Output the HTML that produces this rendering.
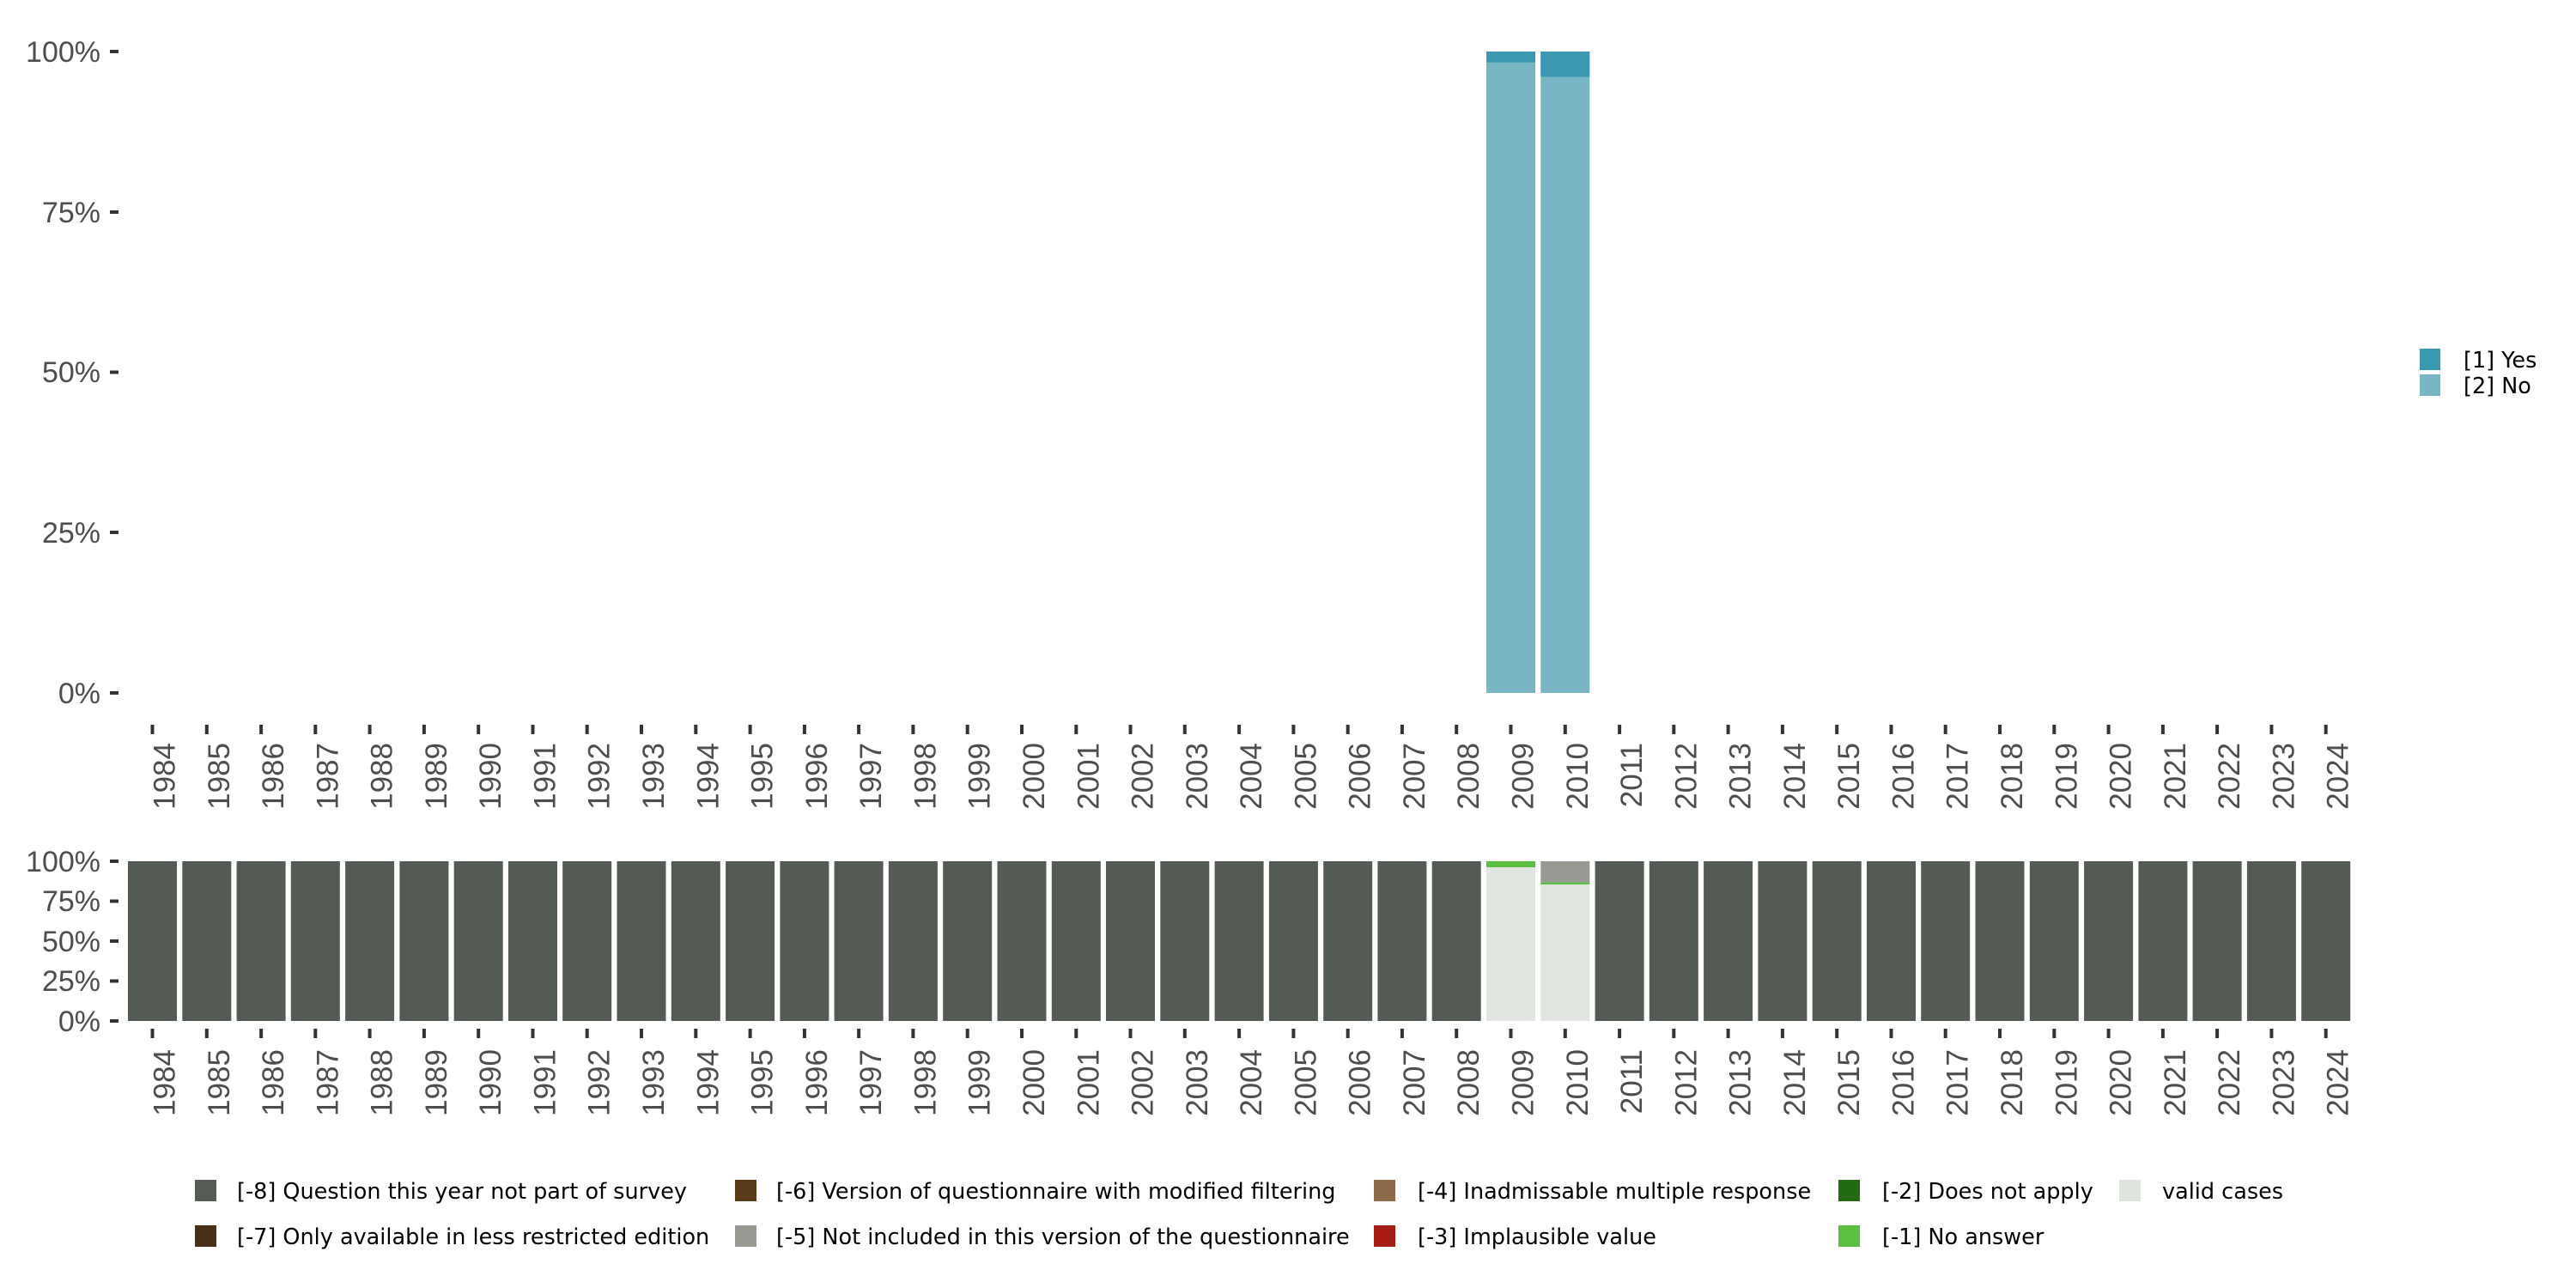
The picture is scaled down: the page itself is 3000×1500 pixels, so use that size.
<!DOCTYPE html>
<html><head><meta charset="utf-8"><style>
html,body{margin:0;padding:0;background:#fff;}
svg{display:block;font-family:"Liberation Sans",sans-serif;}
.yl{font-size:34px;fill:#4d4d4d;text-anchor:end;}
.xl{font-size:35px;fill:#4d4d4d;text-anchor:end;}
.lg{font-size:26px;fill:#000;}
.lb{font-family:"DejaVu Sans",sans-serif;font-size:25.5px;fill:#000;}
</style></head><body>
<svg width="3000" height="1500" viewBox="0 0 3000 1500" xmlns="http://www.w3.org/2000/svg">
<defs>
<g id="tk"><rect x="-2" y="844" width="4" height="11" fill="#333"/><rect x="-2" y="1198" width="4" height="11" fill="#333"/></g>
</defs>
<g fill="#333">
<rect x="128" y="58" width="10" height="4"/><rect x="128" y="245" width="10" height="4"/><rect x="128" y="431.5" width="10" height="4"/><rect x="128" y="618" width="10" height="4"/><rect x="128" y="805" width="10" height="4"/>
<rect x="128" y="1001" width="10" height="4"/><rect x="128" y="1047.5" width="10" height="4"/><rect x="128" y="1094" width="10" height="4"/><rect x="128" y="1140.5" width="10" height="4"/><rect x="128" y="1187" width="10" height="4"/>
</g>
<text class="yl" x="117" y="72">100%</text>
<text class="yl" x="117" y="259">75%</text>
<text class="yl" x="117" y="445">50%</text>
<text class="yl" x="117" y="632">25%</text>
<text class="yl" x="117" y="819">0%</text>
<text class="yl" x="117" y="1015">100%</text>
<text class="yl" x="117" y="1061">75%</text>
<text class="yl" x="117" y="1108">50%</text>
<text class="yl" x="117" y="1154">25%</text>
<text class="yl" x="117" y="1201">0%</text>
<rect x="1731" y="60" width="57" height="747" fill="#79b6c5"/>
<rect x="1731" y="60" width="57" height="12.7" fill="#3a98b0"/>
<rect x="1794.3" y="60" width="57" height="747" fill="#79b6c5"/>
<rect x="1794.3" y="60" width="57" height="29.5" fill="#3a98b0"/>
<rect x="2818" y="406" width="24" height="25" fill="#3a98b0"/>
<rect x="2818" y="436" width="24" height="25" fill="#79b6c5"/>
<text class="lb" x="2869" y="428">[1] Yes</text>
<text class="lb" x="2869" y="458">[2] No</text>
<g fill="#545a54">
<rect x="149" y="1003" width="57" height="186"/><rect x="212.3" y="1003" width="57" height="186"/><rect x="275.6" y="1003" width="57" height="186"/><rect x="338.8" y="1003" width="57" height="186"/><rect x="402.1" y="1003" width="57" height="186"/><rect x="465.4" y="1003" width="57" height="186"/><rect x="528.7" y="1003" width="57" height="186"/><rect x="592" y="1003" width="57" height="186"/><rect x="655.2" y="1003" width="57" height="186"/><rect x="718.5" y="1003" width="57" height="186"/><rect x="781.8" y="1003" width="57" height="186"/><rect x="845.1" y="1003" width="57" height="186"/><rect x="908.4" y="1003" width="57" height="186"/><rect x="971.6" y="1003" width="57" height="186"/><rect x="1034.9" y="1003" width="57" height="186"/><rect x="1098.2" y="1003" width="57" height="186"/><rect x="1161.5" y="1003" width="57" height="186"/><rect x="1224.8" y="1003" width="57" height="186"/><rect x="1288" y="1003" width="57" height="186"/><rect x="1351.3" y="1003" width="57" height="186"/><rect x="1414.6" y="1003" width="57" height="186"/><rect x="1477.9" y="1003" width="57" height="186"/><rect x="1541.2" y="1003" width="57" height="186"/><rect x="1604.4" y="1003" width="57" height="186"/><rect x="1667.7" y="1003" width="57" height="186"/>
<rect x="1857.6" y="1003" width="57" height="186"/><rect x="1920.8" y="1003" width="57" height="186"/><rect x="1984.1" y="1003" width="57" height="186"/><rect x="2047.4" y="1003" width="57" height="186"/><rect x="2110.7" y="1003" width="57" height="186"/><rect x="2174" y="1003" width="57" height="186"/><rect x="2237.2" y="1003" width="57" height="186"/><rect x="2300.5" y="1003" width="57" height="186"/><rect x="2363.8" y="1003" width="57" height="186"/><rect x="2427.1" y="1003" width="57" height="186"/><rect x="2490.4" y="1003" width="57" height="186"/><rect x="2553.6" y="1003" width="57" height="186"/><rect x="2616.9" y="1003" width="57" height="186"/><rect x="2680.2" y="1003" width="57" height="186"/>
</g>
<rect x="1731" y="1003" width="57" height="186" fill="#e0e5e0"/>
<rect x="1731" y="1003" width="57" height="7" fill="#5ac140"/>
<rect x="1794.3" y="1003" width="57" height="186" fill="#e0e5e0"/>
<rect x="1794.3" y="1003" width="57" height="24.7" fill="#969a93"/>
<rect x="1794.3" y="1027.7" width="57" height="2.3" fill="#5ac140"/>
<g>
<use href="#tk" x="177.5"/><use href="#tk" x="240.8"/><use href="#tk" x="304.1"/><use href="#tk" x="367.3"/><use href="#tk" x="430.6"/><use href="#tk" x="493.9"/><use href="#tk" x="557.2"/><use href="#tk" x="620.5"/><use href="#tk" x="683.7"/><use href="#tk" x="747"/><use href="#tk" x="810.3"/><use href="#tk" x="873.6"/><use href="#tk" x="936.9"/><use href="#tk" x="1000.1"/><use href="#tk" x="1063.4"/><use href="#tk" x="1126.7"/><use href="#tk" x="1190"/><use href="#tk" x="1253.3"/><use href="#tk" x="1316.5"/><use href="#tk" x="1379.8"/><use href="#tk" x="1443.1"/><use href="#tk" x="1506.4"/><use href="#tk" x="1569.7"/><use href="#tk" x="1632.9"/><use href="#tk" x="1696.2"/><use href="#tk" x="1759.5"/><use href="#tk" x="1822.8"/><use href="#tk" x="1886.1"/><use href="#tk" x="1949.3"/><use href="#tk" x="2012.6"/><use href="#tk" x="2075.9"/><use href="#tk" x="2139.2"/><use href="#tk" x="2202.5"/><use href="#tk" x="2265.7"/><use href="#tk" x="2329"/><use href="#tk" x="2392.3"/><use href="#tk" x="2455.6"/><use href="#tk" x="2518.9"/><use href="#tk" x="2582.1"/><use href="#tk" x="2645.4"/><use href="#tk" x="2708.7"/>
</g>
<g>
<text transform="translate(203.5,865) rotate(-90)" class="xl">1984</text><text transform="translate(203.5,1222) rotate(-90)" class="xl">1984</text>
<text transform="translate(266.8,865) rotate(-90)" class="xl">1985</text><text transform="translate(266.8,1222) rotate(-90)" class="xl">1985</text>
<text transform="translate(330.1,865) rotate(-90)" class="xl">1986</text><text transform="translate(330.1,1222) rotate(-90)" class="xl">1986</text>
<text transform="translate(393.3,865) rotate(-90)" class="xl">1987</text><text transform="translate(393.3,1222) rotate(-90)" class="xl">1987</text>
<text transform="translate(456.6,865) rotate(-90)" class="xl">1988</text><text transform="translate(456.6,1222) rotate(-90)" class="xl">1988</text>
<text transform="translate(519.9,865) rotate(-90)" class="xl">1989</text><text transform="translate(519.9,1222) rotate(-90)" class="xl">1989</text>
<text transform="translate(583.2,865) rotate(-90)" class="xl">1990</text><text transform="translate(583.2,1222) rotate(-90)" class="xl">1990</text>
<text transform="translate(646.5,865) rotate(-90)" class="xl">1991</text><text transform="translate(646.5,1222) rotate(-90)" class="xl">1991</text>
<text transform="translate(709.7,865) rotate(-90)" class="xl">1992</text><text transform="translate(709.7,1222) rotate(-90)" class="xl">1992</text>
<text transform="translate(773,865) rotate(-90)" class="xl">1993</text><text transform="translate(773,1222) rotate(-90)" class="xl">1993</text>
<text transform="translate(836.3,865) rotate(-90)" class="xl">1994</text><text transform="translate(836.3,1222) rotate(-90)" class="xl">1994</text>
<text transform="translate(899.6,865) rotate(-90)" class="xl">1995</text><text transform="translate(899.6,1222) rotate(-90)" class="xl">1995</text>
<text transform="translate(962.9,865) rotate(-90)" class="xl">1996</text><text transform="translate(962.9,1222) rotate(-90)" class="xl">1996</text>
<text transform="translate(1026.1,865) rotate(-90)" class="xl">1997</text><text transform="translate(1026.1,1222) rotate(-90)" class="xl">1997</text>
<text transform="translate(1089.4,865) rotate(-90)" class="xl">1998</text><text transform="translate(1089.4,1222) rotate(-90)" class="xl">1998</text>
<text transform="translate(1152.7,865) rotate(-90)" class="xl">1999</text><text transform="translate(1152.7,1222) rotate(-90)" class="xl">1999</text>
<text transform="translate(1216,865) rotate(-90)" class="xl">2000</text><text transform="translate(1216,1222) rotate(-90)" class="xl">2000</text>
<text transform="translate(1279.3,865) rotate(-90)" class="xl">2001</text><text transform="translate(1279.3,1222) rotate(-90)" class="xl">2001</text>
<text transform="translate(1342.5,865) rotate(-90)" class="xl">2002</text><text transform="translate(1342.5,1222) rotate(-90)" class="xl">2002</text>
<text transform="translate(1405.8,865) rotate(-90)" class="xl">2003</text><text transform="translate(1405.8,1222) rotate(-90)" class="xl">2003</text>
<text transform="translate(1469.1,865) rotate(-90)" class="xl">2004</text><text transform="translate(1469.1,1222) rotate(-90)" class="xl">2004</text>
<text transform="translate(1532.4,865) rotate(-90)" class="xl">2005</text><text transform="translate(1532.4,1222) rotate(-90)" class="xl">2005</text>
<text transform="translate(1595.7,865) rotate(-90)" class="xl">2006</text><text transform="translate(1595.7,1222) rotate(-90)" class="xl">2006</text>
<text transform="translate(1658.9,865) rotate(-90)" class="xl">2007</text><text transform="translate(1658.9,1222) rotate(-90)" class="xl">2007</text>
<text transform="translate(1722.2,865) rotate(-90)" class="xl">2008</text><text transform="translate(1722.2,1222) rotate(-90)" class="xl">2008</text>
<text transform="translate(1785.5,865) rotate(-90)" class="xl">2009</text><text transform="translate(1785.5,1222) rotate(-90)" class="xl">2009</text>
<text transform="translate(1848.8,865) rotate(-90)" class="xl">2010</text><text transform="translate(1848.8,1222) rotate(-90)" class="xl">2010</text>
<text transform="translate(1912.1,865) rotate(-90)" class="xl">2011</text><text transform="translate(1912.1,1222) rotate(-90)" class="xl">2011</text>
<text transform="translate(1975.3,865) rotate(-90)" class="xl">2012</text><text transform="translate(1975.3,1222) rotate(-90)" class="xl">2012</text>
<text transform="translate(2038.6,865) rotate(-90)" class="xl">2013</text><text transform="translate(2038.6,1222) rotate(-90)" class="xl">2013</text>
<text transform="translate(2101.9,865) rotate(-90)" class="xl">2014</text><text transform="translate(2101.9,1222) rotate(-90)" class="xl">2014</text>
<text transform="translate(2165.2,865) rotate(-90)" class="xl">2015</text><text transform="translate(2165.2,1222) rotate(-90)" class="xl">2015</text>
<text transform="translate(2228.5,865) rotate(-90)" class="xl">2016</text><text transform="translate(2228.5,1222) rotate(-90)" class="xl">2016</text>
<text transform="translate(2291.7,865) rotate(-90)" class="xl">2017</text><text transform="translate(2291.7,1222) rotate(-90)" class="xl">2017</text>
<text transform="translate(2355,865) rotate(-90)" class="xl">2018</text><text transform="translate(2355,1222) rotate(-90)" class="xl">2018</text>
<text transform="translate(2418.3,865) rotate(-90)" class="xl">2019</text><text transform="translate(2418.3,1222) rotate(-90)" class="xl">2019</text>
<text transform="translate(2481.6,865) rotate(-90)" class="xl">2020</text><text transform="translate(2481.6,1222) rotate(-90)" class="xl">2020</text>
<text transform="translate(2544.9,865) rotate(-90)" class="xl">2021</text><text transform="translate(2544.9,1222) rotate(-90)" class="xl">2021</text>
<text transform="translate(2608.1,865) rotate(-90)" class="xl">2022</text><text transform="translate(2608.1,1222) rotate(-90)" class="xl">2022</text>
<text transform="translate(2671.4,865) rotate(-90)" class="xl">2023</text><text transform="translate(2671.4,1222) rotate(-90)" class="xl">2023</text>
<text transform="translate(2734.7,865) rotate(-90)" class="xl">2024</text><text transform="translate(2734.7,1222) rotate(-90)" class="xl">2024</text>
</g>
<rect x="227" y="1374" width="25" height="25" fill="#555b55"/>
<rect x="227" y="1427" width="25" height="25" fill="#4a2f17"/>
<text class="lb" x="276" y="1396">[-8] Question this year not part of survey</text>
<text class="lb" x="276" y="1449">[-7] Only available in less restricted edition</text>
<rect x="856" y="1374" width="25" height="25" fill="#5b3a18"/>
<rect x="856" y="1427" width="25" height="25" fill="#969a93"/>
<text class="lb" x="904" y="1396">[-6] Version of questionnaire with modified filtering</text>
<text class="lb" x="904" y="1449">[-5] Not included in this version of the questionnaire</text>
<rect x="1600" y="1374" width="25" height="25" fill="#8d6a48"/>
<rect x="1600" y="1427" width="25" height="25" fill="#a51c17"/>
<text class="lb" x="1651" y="1396">[-4] Inadmissable multiple response</text>
<text class="lb" x="1651" y="1449">[-3] Implausible value</text>
<rect x="2141" y="1374" width="25" height="25" fill="#226b12"/>
<rect x="2141" y="1427" width="25" height="25" fill="#5ac140"/>
<text class="lb" x="2192" y="1396">[-2] Does not apply</text>
<text class="lb" x="2192" y="1449">[-1] No answer</text>
<rect x="2468" y="1374" width="25" height="25" fill="#e0e4df"/>
<text class="lb" x="2518" y="1396">valid cases</text>
</svg>
</body></html>
